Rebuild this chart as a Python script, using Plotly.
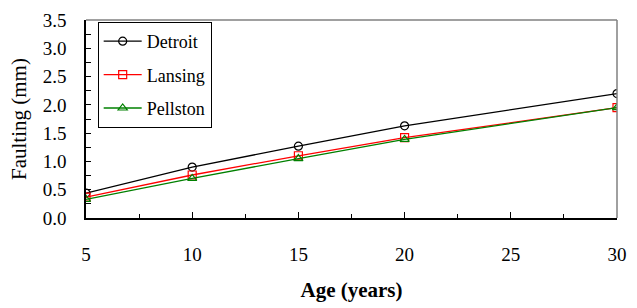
import plotly.graph_objects as go

ages = [5, 10, 15, 20, 30]
detroit = [0.44, 0.90, 1.27, 1.63, 2.20]
lansing = [0.37, 0.76, 1.10, 1.42, 1.95]
pellston = [0.33, 0.70, 1.05, 1.39, 1.95]

x_ticks = [5, 10, 15, 20, 25, 30]
y_ticks = [0.0, 0.5, 1.0, 1.5, 2.0, 2.5, 3.0, 3.5]

font = "Liberation Serif"
fs = 19
fs_title = 21

fig = go.Figure()
series = [
    ("Detroit", detroit, "black", "circle-open"),
    ("Lansing", lansing, "#ff0000", "square-open"),
    ("Pellston", pellston, "#008000", "triangle-up-open"),
]
for name, vals, color, sym in series:
    fig.add_trace(go.Scatter(
        x=ages, y=vals, name=name, mode="lines+markers", legendgroup=name,
        line=dict(color=color, width=1.3),
        marker=dict(symbol=sym, size=8, color=color, line=dict(width=1.2, color=color)),
    ))

# gray top/right frame
fig.add_shape(type="line", xref="paper", yref="paper", x0=0, x1=1, y0=1, y1=1,
              line=dict(color="#808080", width=1.5))
fig.add_shape(type="line", xref="paper", yref="paper", x0=1, x1=1, y0=0, y1=1,
              line=dict(color="#808080", width=1.5))

fig.update_layout(
    width=637, height=308,
    margin=dict(l=86, r=10, t=13, b=86),
    paper_bgcolor="white", plot_bgcolor="white",
    font=dict(family=font, size=fs, color="black"),
    showlegend=True,
    legend=dict(
        x=0.022, y=0.99, xanchor="left", yanchor="top",
        bordercolor="black", borderwidth=1, bgcolor="white",
        font=dict(family=font, size=18, color="black"),
        itemsizing="trace", tracegroupgap=7, traceorder="grouped",
        itemwidth=38,
    ),
    xaxis=dict(
        range=[5, 30], tickvals=x_ticks, ticktext=[str(v) for v in x_ticks],
        ticks="inside", ticklen=6, tickwidth=1, tickcolor="black",
        minor=dict(ticks="inside", ticklen=4, dtick=2.5, tick0=5, tickcolor="black"),
        showline=True, linecolor="black", linewidth=1.5,
        showgrid=False, zeroline=False, ticklabelstandoff=18,
        title=dict(text="<b>Age (years)</b>", font=dict(family=font, size=fs_title), standoff=19),
    ),
    yaxis=dict(
        range=[0, 3.5], tickvals=y_ticks, ticktext=[f"{v:.1f}" for v in y_ticks],
        ticks="inside", ticklen=5, tickwidth=1, tickcolor="black",
        minor=dict(ticks="inside", ticklen=5, dtick=0.25, tick0=0, tickcolor="black"),
        showline=True, linecolor="black", linewidth=1.5,
        showgrid=False, zeroline=False, ticklabelstandoff=14,
        title=dict(text="Faulting (mm)", font=dict(family=font, size=fs_title), standoff=10),
    ),
)

fig.write_html("out.html", config={"displayModeBar": False},
               post_script="document.body.style.margin='0px';")
